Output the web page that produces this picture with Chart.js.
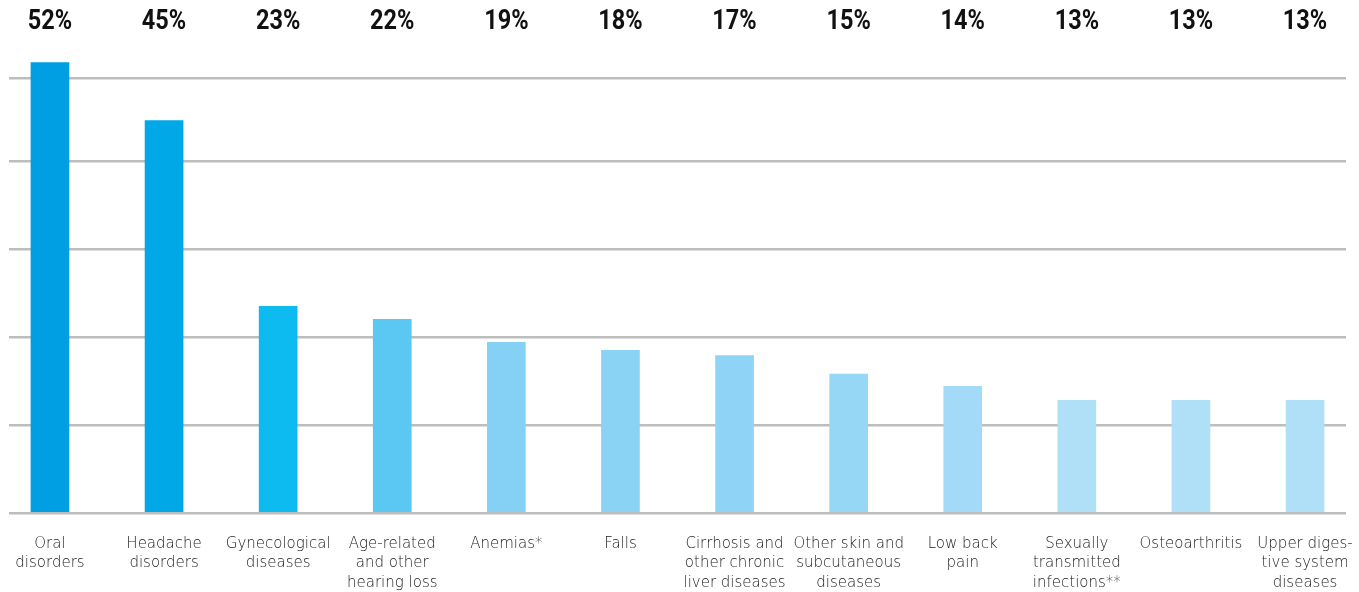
<!DOCTYPE html>
<html>
<head>
<meta charset="utf-8">
<script src="https://cdn.jsdelivr.net/npm/chart.js@4.4.1/dist/chart.umd.min.js"></script>
<style>
  html, body { margin: 0; padding: 0; background: #fff; }
  #wrap { width: 1359px; height: 592px; }
</style>
</head>
<body>
<div id="wrap"><canvas id="grafico"></canvas></div>
<script>
// categorias (quebras de linha como no original)
const categorias = [
    ['Oral', 'disorders'],
    ['Headache', 'disorders'],
    ['Gynecological', 'diseases'],
    ['Age-related', 'and other', 'hearing loss'],
    ['Anemias*'],
    ['Falls'],
    ['Cirrhosis and', 'other chronic', 'liver diseases'],
    ['Other skin and', 'subcutaneous', 'diseases'],
    ['Low back', 'pain'],
    ['Sexually', 'transmitted', 'infections**'],
    ['Osteoarthritis'],
    ['Upper diges-', 'tive system', 'diseases']
];

// alturas
const valores = [51.2, 44.6, 23.5, 22.0, 19.4, 18.5, 17.9, 15.8, 14.4, 12.8, 12.8, 12.8];

// rótulos do topo
const rotulos = ['52%', '45%', '23%', '22%', '19%', '18%', '17%', '15%', '14%', '13%', '13%', '13%'];

// linhas de grade do eixo y
const linhasGrade = [0, 10, 20, 30, 40, 49.4];

const cores = ['#009fe3', '#00a8e8', '#0dbbf0', '#5bc7f3', '#84d1f5', '#8ad3f5',
               '#8fd4f6', '#97d7f6', '#a2daf7', '#b0dff8', '#b0dff8', '#b0dff8'];

// rótulos fixos no topo, alinhados com cada barra (fonte "estreitada")
const rotulosTopo = {
    id: 'rotulosTopo',
    afterDatasetsDraw(chart) {
        const ctx = chart.ctx;
        const meta = chart.getDatasetMeta(0);
        const sx = 0.84;
        ctx.save();
        ctx.font = 'bold 28px Roboto, sans-serif';
        ctx.fillStyle = '#111';
        ctx.textAlign = 'center';
        ctx.textBaseline = 'middle';
        ctx.scale(sx, 1);
        meta.data.forEach((bar, i) => {
            ctx.fillText(rotulos[i], bar.x / sx, 22);
        });
        ctx.restore();
    }
};

const ctx = document.getElementById('grafico').getContext('2d');
new Chart(ctx, {
    type: 'bar',
    data: {
        datasets: [{
            data: valores.map((v, i) => ({ x: i, y: v })),
            backgroundColor: cores,
            barThickness: 38,
            borderWidth: 0
        }]
    },
    options: {
        responsive: true,
        maintainAspectRatio: false,
        animation: false,
        layout: { padding: { left: 9, right: 13, top: 0, bottom: 0 } },
        plugins: {
            legend: { display: false },
            tooltip: { enabled: false }
        },
        scales: {
            x: {
                type: 'linear',
                offset: false,
                min: -0.359,
                max: 11.359,
                grid: { display: false, offset: false },
                border: { display: false },
                ticks: {
                    stepSize: 1,
                    includeBounds: false,
                    autoSkip: false,
                    maxRotation: 0,
                    padding: 13,
                    color: '#222',
                    font: { family: '"DejaVu Sans", sans-serif', size: 15, weight: 200, lineHeight: 1.3 },
                    callback: v => categorias[v] || ''
                },
                afterFit(scale) {
                    scale.height = 79;
                    scale.paddingLeft = 0;
                    scale.paddingRight = 0;
                }
            },
            y: {
                min: 0,
                max: 58.3,
                border: { display: false },
                grid: { color: '#bdbdbd', lineWidth: 2.6, drawTicks: false },
                ticks: { display: false },
                afterBuildTicks(scale) {
                    scale.ticks = linhasGrade.map(v => ({ value: v }));
                },
                afterFit(scale) { scale.width = 0; }
            }
        }
    },
    plugins: [rotulosTopo]
});
</script>
</body>
</html>
